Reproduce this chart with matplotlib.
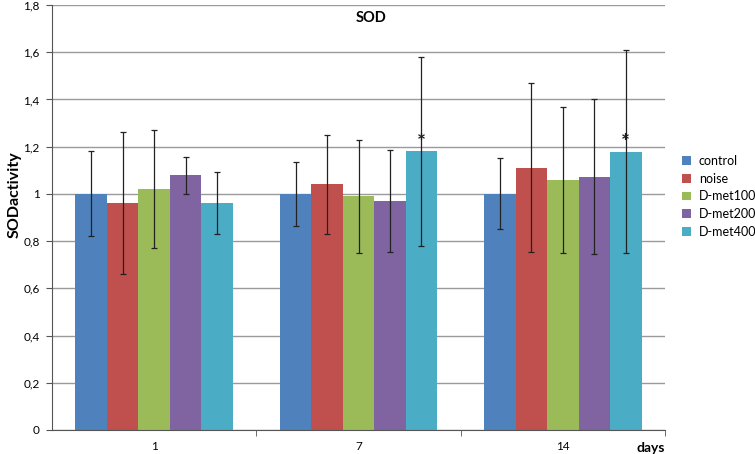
import matplotlib
matplotlib.use("Agg")
import matplotlib.pyplot as plt
import numpy as np

plt.rcParams['font.family'] = ['Lato', 'DejaVu Sans']

days = ["1", "7", "14"]
groups = ["control", "noise", "D-met100", "D-met200", "D-met400"]
colors = ["#4F81BD", "#C0504D", "#9BBB59", "#8064A2", "#4BACC6"]
values = {
    "control":  [1.00, 1.00, 1.00],
    "noise":    [0.962, 1.04, 1.111],
    "D-met100": [1.02, 0.989, 1.059],
    "D-met200": [1.078, 0.969, 1.072],
    "D-met400": [0.962, 1.181, 1.179],
}
errors = {
    "control":  [0.18, 0.135, 0.15],
    "noise":    [0.30, 0.21, 0.358],
    "D-met100": [0.25, 0.24, 0.31],
    "D-met200": [0.08, 0.215, 0.328],
    "D-met400": [0.13, 0.40, 0.43],
}
significant = {"D-met400": [False, True, True]}
yticks = [0, 0.2, 0.4, 0.6, 0.8, 1.0, 1.2, 1.4, 1.6, 1.8]
ytick_labels = ["0", "0,2", "0,4", "0,6", "0,8", "1", "1,2", "1,4", "1,6", "1,8"]

fig = plt.figure(figsize=(7.55, 4.54), dpi=100)
ax = fig.add_axes([52/755, 24/454, (665-52)/755, (430-5)/454])

x = np.arange(len(days))
w = 0.154
for i, g in enumerate(groups):
    pos = x + (i - 2) * w
    ax.bar(pos, values[g], width=w, color=colors[i], label=g, zorder=2)
    ax.errorbar(pos, values[g], yerr=errors[g], fmt='none', ecolor='#222222',
                elinewidth=0.9, capsize=2.5, capthick=0.9, zorder=3)
    if g in significant:
        for p, v, s in zip(pos, values[g], significant[g]):
            if s:
                ax.annotate("*", (p, v), xytext=(0, -1), textcoords='offset points',
                            ha='center', va='bottom', fontsize=15, fontweight='bold',
                            color='#1a1a1a', zorder=4)

ax.set_xlim(-0.5, 2.5)
ax.set_ylim(0, 1.8)
ax.set_yticks(yticks)
ax.set_yticklabels(ytick_labels, fontsize=8.5)
ax.yaxis.grid(True, color='#9a9a9a', linewidth=1.0, zorder=0)
ax.set_axisbelow(True)
ax.set_xticks(x)
ax.set_xticklabels(days, fontsize=8.5)
ax.tick_params(axis='x', length=0, pad=8)
ax.set_xticks([0.5, 1.5, 2.5], minor=True)
ax.tick_params(axis='x', which='minor', length=4, direction='out', color='#555555')
ax.tick_params(axis='y', length=4, direction='out', color='#555555', pad=5)
for s in ['top', 'right']:
    ax.spines[s].set_visible(False)
ax.spines['left'].set_color('#555555')
ax.spines['bottom'].set_color('#555555')

ax.set_ylabel("SODactivity", fontsize=11.5, fontweight='bold')
ax.yaxis.set_label_coords(-0.05, 0.553)
ax.text(0.52, 0.985, "SOD", transform=ax.transAxes, ha='center', va='top',
        fontsize=10.5, fontweight='bold')
ax.text(1.0, -0.028, "days", transform=ax.transAxes, ha='right', va='top',
        fontsize=10, fontweight='bold')

ax.legend(loc='center left', bbox_to_anchor=(1.01, 0.55), frameon=False, fontsize=9,
          handlelength=0.7, handleheight=0.7, handletextpad=0.6, labelspacing=0.45)

fig.savefig("out.png", dpi=100)
